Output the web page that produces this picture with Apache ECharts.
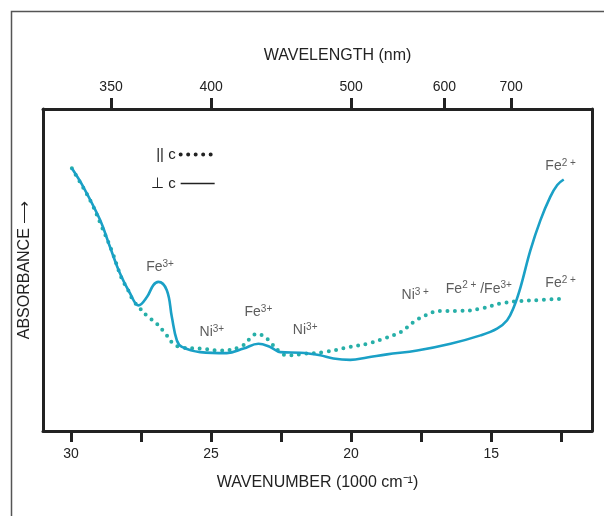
<!DOCTYPE html>
<html>
<head>
<meta charset="utf-8">
<script src="https://cdn.jsdelivr.net/npm/echarts@6/dist/echarts.min.js"></script>
<style>
  html, body { margin: 0; padding: 0; background: #fff; }
  #main { width: 604px; height: 516px; }
</style>
</head>
<body>
<div id="main"></div>
<script>
// perpendicular to c (solid line): wavenumber (1000 cm-1) / absorbance (arb.)
const perpW = [29.97, 29.56, 28.96, 28.61, 28.25, 27.89, 27.59, 27.29, 27.06, 26.88, 26.58, 26.40, 26.22, 26.04,
  25.39, 24.44, 23.84, 23.31, 22.89, 22.53, 21.82, 21.46, 21.10, 20.63, 20.03, 19.43, 18.72, 17.64, 16.45,
  15.38, 14.79, 14.43, 14.19, 13.95, 13.60, 13.24, 12.89, 12.64, 12.41];
const perpA = [81.6, 75.8, 65.5, 57.2, 48.9, 42.7, 39.0, 41.6, 45.3, 46.3, 43.7, 35.4, 28.1, 26.1,
  24.5, 24.2, 25.6, 27.1, 26.1, 24.5, 24.3, 24.0, 23.5, 22.5, 22.1, 22.8, 23.8, 25.0, 27.1,
  29.7, 31.8, 34.4, 38.5, 44.7, 56.1, 65.5, 72.7, 76.4, 78.1];

// parallel to c (dotted line)
const paraW = [29.97, 29.62, 29.26, 28.90, 28.55, 28.19, 27.96, 27.78, 27.53, 27.24, 26.94, 26.58, 26.40, 26.04,
  25.39, 24.67, 23.96, 23.60, 23.36, 23.07, 22.89, 22.53, 22.29, 21.64, 20.98, 20.03, 19.43, 18.84,
  18.24, 17.77, 17.35, 16.81, 16.10, 15.38, 14.67, 14.07, 13.48, 12.41];
const paraA = [81.6, 76.4, 70.7, 63.4, 56.1, 47.4, 43.7, 40.6, 38.0, 35.4, 33.3, 29.7, 27.6, 25.9,
  25.6, 25.0, 26.1, 28.7, 30.2, 29.2, 27.6, 24.5, 23.5, 24.0, 24.5, 26.1, 27.1, 28.7,
  30.7, 33.8, 35.9, 37.3, 37.3, 38.0, 39.6, 40.3, 40.6, 41.1];

// band assignments, ^{...} = superscript
const bandText = ['Fe^{3+}', 'Ni^{3+}', 'Fe^{3+}', 'Ni^{3+}', 'Ni^{3 +}', 'Fe^{2 +} /Fe^{3+}', 'Fe^{2 +}', 'Fe^{2 +}'];
const bandW = [26.82, 24.97, 23.31, 21.64, 17.71, 15.44, 12.52, 12.52];
const bandA = [51.0, 30.7, 37.0, 31.3, 42.1, 44.2, 82.1, 46.0];

const wnTicks = [30, 27.5, 25, 22.5, 20, 17.5, 15, 12.5];
const wnLabels = [30, 25, 20, 15];
const wavelengths = [350, 400, 500, 600, 700];

const font = "'Liberation Sans', Arial, sans-serif";
const ink = '#222';
const wlPos = wavelengths.map(l => 10000 / l);

function toRich(s) {
  return '{n|' + s.replace(/\^\{([^}]*)\}/g, '}{s|$1}{n|') + '}';
}

const chart = echarts.init(document.getElementById('main'));
chart.setOption({
  animation: false,
  backgroundColor: '#fff',
  textStyle: { fontFamily: font },
  graphic: [{
    type: 'rect',
    shape: { x: 11.5, y: 11.5, width: 700, height: 700 },
    style: { fill: 'none', stroke: '#555', lineWidth: 1.5 },
    silent: true
  }],
  grid: { left: 43, right: 12, top: 109, bottom: 85 },
  legend: {
    data: [
      { name: '|| c', lineStyle: { width: 4 } },
      { name: '⊥ c', lineStyle: { width: 1.5 } }
    ],
    orient: 'vertical',
    left: 151,
    top: 147,
    padding: 0,
    align: 'right',
    itemWidth: 34,
    itemHeight: 14,
    itemGap: 14,
    textStyle: { fontSize: 15, color: ink, fontFamily: font },
    itemStyle: { opacity: 0 },
    lineStyle: { color: ink }
  },
  xAxis: [{
    type: 'value',
    position: 'bottom',
    min: 11.4,
    max: 31,
    inverse: true,
    name: 'WAVENUMBER (1000 cm⁻¹)',
    nameLocation: 'middle',
    nameGap: 44,
    nameTextStyle: { fontSize: 16, color: ink, fontFamily: font },
    axisLine: { onZero: false, lineStyle: { color: ink, width: 3 } },
    axisTick: { customValues: wnTicks, length: 11, lineStyle: { color: ink, width: 3 } },
    axisLabel: { customValues: wnLabels, margin: 16, fontSize: 14, color: ink, fontFamily: font },
    splitLine: { show: false }
  }, {
    type: 'value',
    position: 'top',
    min: 11.4,
    max: 31,
    inverse: true,
    name: 'WAVELENGTH (nm)',
    nameLocation: 'middle',
    nameGap: 45,
    nameTextStyle: { fontSize: 16, color: ink, fontFamily: font, padding: [0, 0, 0, 40] },
    axisLine: { onZero: false, lineStyle: { color: ink, width: 3 } },
    axisTick: { customValues: wlPos, length: 11, lineStyle: { color: ink, width: 3 } },
    axisLabel: {
      customValues: wlPos, margin: 15, fontSize: 14, color: ink, fontFamily: font,
      formatter: v => String(Math.round(10000 / v))
    },
    splitLine: { show: false }
  }],
  yAxis: [{
    type: 'value',
    min: 0,
    max: 100,
    name: 'ABSORBANCE ⟶',
    nameLocation: 'middle',
    nameRotate: 90,
    nameGap: 10,
    nameTextStyle: { fontSize: 16, color: ink, fontFamily: font },
    axisLine: { show: true, lineStyle: { color: ink, width: 3 } },
    axisTick: { show: false },
    axisLabel: { show: false },
    splitLine: { show: false }
  }, {
    type: 'value',
    min: 0,
    max: 100,
    position: 'right',
    axisLine: { show: true, lineStyle: { color: ink, width: 3 } },
    axisTick: { show: false },
    axisLabel: { show: false },
    splitLine: { show: false }
  }],
  series: [{
    name: '|| c',
    type: 'line',
    smooth: 0.4,
    symbol: 'none',
    lineStyle: { color: '#27afa8', width: 4, type: [0, 7.5], cap: 'round' },
    itemStyle: { color: '#27afa8' },
    data: paraW.map((w, i) => [w, paraA[i]])
  }, {
    name: '⊥ c',
    type: 'line',
    smooth: 0.4,
    symbol: 'none',
    lineStyle: { color: '#1aa0c6', width: 2.6 },
    itemStyle: { color: '#1aa0c6' },
    data: perpW.map((w, i) => [w, perpA[i]])
  }, {
    name: 'bands',
    type: 'scatter',
    symbolSize: 0,
    silent: true,
    label: {
      show: true,
      position: 'inside',
      formatter: p => toRich(p.value[2]),
      rich: {
        n: { fontSize: 14, color: '#333', fontFamily: font, lineHeight: 16 },
        s: { fontSize: 10, color: '#333', fontFamily: font, verticalAlign: 'top', lineHeight: 11 }
      }
    },
    data: bandW.map((w, i) => [w, bandA[i], bandText[i]])
  }]
});
</script>
</body>
</html>
